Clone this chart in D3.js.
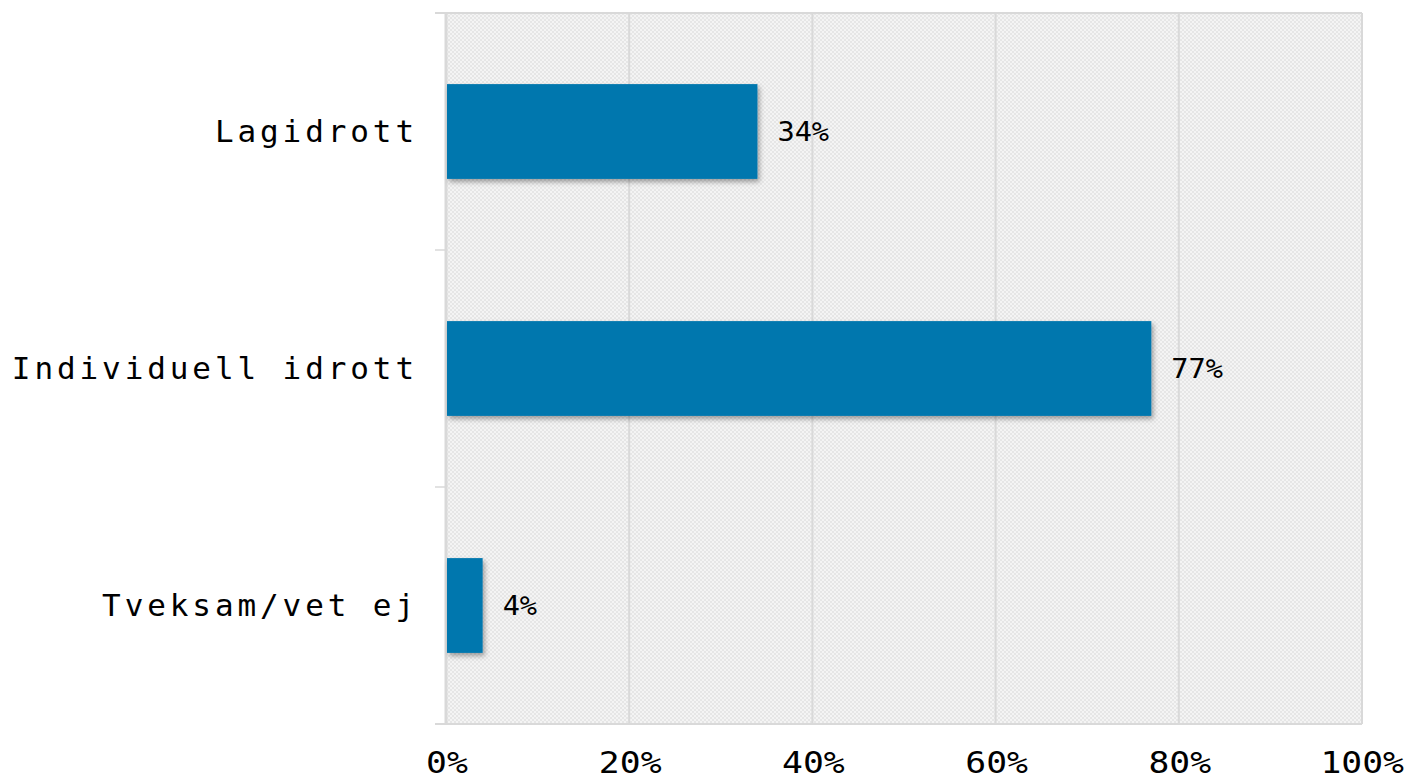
<!DOCTYPE html>
<html>
<head>
<meta charset="utf-8">
<script src="https://cdn.jsdelivr.net/npm/d3@7"></script>
<style>
  body { margin: 0; background: #fff; }
  svg text { font-family: "DejaVu Sans Mono", monospace; fill: #000; }
</style>
</head>
<body>
<div id="chart"></div>
<script>
const categories = ["Lagidrott", "Individuell idrott", "Tveksam/vet ej"];
const values = [0.34, 0.77, 0.04];
const valueLabels = ["34%", "77%", "4%"];
const tickValues = [0, 0.2, 0.4, 0.6, 0.8, 1.0];
const tickLabels = ["0%", "20%", "40%", "60%", "80%", "100%"];

const W = 1410, H = 781;
const margin = { top: 13, right: 48, bottom: 57, left: 446 };
const width = W - margin.left - margin.right;
const height = H - margin.top - margin.bottom;

const svg = d3.select("#chart").append("svg")
  .attr("width", W)
  .attr("height", H);

const defs = svg.append("defs");
const pat = defs.append("pattern")
  .attr("id", "checker")
  .attr("width", 4).attr("height", 4)
  .attr("patternUnits", "userSpaceOnUse");
pat.append("rect").attr("width", 4).attr("height", 4).attr("fill", "#f4f4f4");
pat.append("rect").attr("width", 2).attr("height", 2).attr("fill", "#e6e6e6");
pat.append("rect").attr("x", 2).attr("y", 2).attr("width", 2).attr("height", 2).attr("fill", "#e6e6e6");

const shadow = defs.append("filter").attr("id", "shadow")
  .attr("x", "-10%").attr("y", "-10%").attr("width", "130%").attr("height", "140%");
shadow.append("feDropShadow")
  .attr("dx", 2).attr("dy", 3).attr("stdDeviation", 2.5)
  .attr("flood-color", "#000").attr("flood-opacity", 0.35);

const g = svg.append("g")
  .attr("transform", `translate(${margin.left},${margin.top})`);

const X = d3.scaleLinear().domain([0, 1]).range([0, width]);
const Y = d3.scaleBand().domain(categories).range([0, height]).paddingInner(0.6).paddingOuter(0.3);

// plot background
g.append("rect")
  .attr("width", width).attr("height", height)
  .attr("fill", "url(#checker)");

// vertical gridlines
g.append("g").selectAll("line")
  .data(tickValues)
  .join("line")
  .attr("x1", (d) => X(d)).attr("x2", (d) => X(d))
  .attr("y1", 0).attr("y2", height)
  .attr("stroke", "#d9d9d9")
  .attr("stroke-width", 2);

// top / bottom borders
g.append("g").selectAll("line")
  .data([0, height])
  .join("line")
  .attr("x1", -11).attr("x2", width)
  .attr("y1", (d) => d).attr("y2", (d) => d)
  .attr("stroke", "#d9d9d9")
  .attr("stroke-width", 2);

// left category axis
const bandEdges = categories.map((c) => Y(c) - Y.step() * Y.paddingInner() / 2).concat([height]);
bandEdges[0] = 0;
g.append("line")
  .attr("x1", 0).attr("x2", 0).attr("y1", 0).attr("y2", height)
  .attr("stroke", "#d9d9d9").attr("stroke-width", 3);
g.append("g").selectAll("line")
  .data(bandEdges)
  .join("line")
  .attr("x1", -11).attr("x2", 0)
  .attr("y1", (d) => d).attr("y2", (d) => d)
  .attr("stroke", "#d9d9d9").attr("stroke-width", 1.5);

// bars
g.append("g").selectAll("rect")
  .data(values)
  .join("rect")
  .attr("x", 1)
  .attr("y", (d, i) => Y(categories[i]))
  .attr("width", (d) => X(d) - 1)
  .attr("height", Y.bandwidth())
  .attr("fill", "#0077ae")
  .attr("filter", "url(#shadow)");

// value labels
g.append("g").selectAll("text")
  .data(values)
  .join("text")
  .attr("transform", (d, i) => `translate(${X(d) + 20},${Y(categories[i]) + Y.bandwidth() / 2}) scale(1.1,1)`)
  .attr("dy", "0.35em")
  .style("font-size", "26px")
  .text((d, i) => valueLabels[i]);

// category labels
g.append("g").selectAll("text")
  .data(categories)
  .join("text")
  .attr("x", -28)
  .attr("y", (d) => Y(d) + Y.bandwidth() / 2)
  .attr("dy", "0.35em")
  .attr("text-anchor", "end")
  .style("font-size", "31px")
  .style("letter-spacing", "3.9px")
  .text((d) => d);

// x tick labels (the last one is pulled in so it stays inside the page)
const tickSx = 1.12;
g.append("g").selectAll("text")
  .data(tickValues)
  .join("text")
  .attr("text-anchor", "middle")
  .style("font-size", "31px")
  .text((d, i) => tickLabels[i])
  .attr("transform", function (d) {
    const half = this.getComputedTextLength() * tickSx / 2;
    const cx = Math.min(X(d) + 1, W - margin.left - 6 - half);
    return `translate(${cx},${height + 49}) scale(${tickSx},1)`;
  });
</script>
</body>
</html>
